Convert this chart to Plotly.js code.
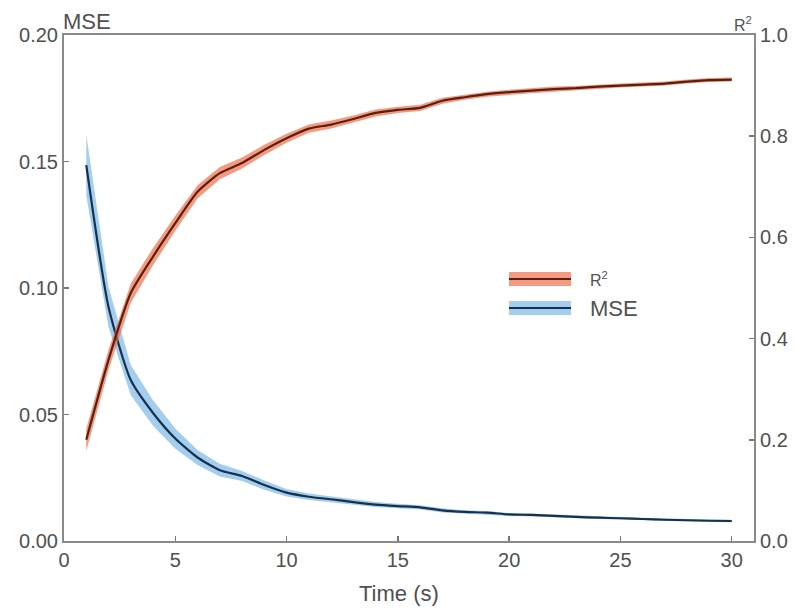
<!DOCTYPE html>
<html>
<head>
<meta charset="utf-8">
<script src="https://cdn.plot.ly/plotly-3.0.1.min.js"></script>
<style>html,body{margin:0;padding:0;background:#fff;}#chart{width:798px;height:609px;}</style>
</head>
<body>
<div id="chart"></div>
<script>
const time = [1,2,3,4,5,6,7,8,9,10,11,12,13,14,15,16,17,18,19,20,21,22,23,24,25,26,27,28,29,30];
const r2 = [0.200,0.358,0.490,0.562,0.628,0.690,0.727,0.747,0.773,0.796,0.815,0.823,0.834,0.846,0.852,0.856,0.870,0.877,0.883,0.887,0.890,0.893,0.895,0.898,0.900,0.902,0.904,0.908,0.911,0.912];
const r2Std = [0.022,0.020,0.019,0.017,0.015,0.013,0.012,0.011,0.010,0.009,0.008,0.008,0.007,0.007,0.006,0.006,0.006,0.005,0.005,0.005,0.005,0.005,0.004,0.004,0.004,0.004,0.004,0.004,0.004,0.004];
const mse = [0.1486,0.0925,0.0636,0.0506,0.0405,0.0330,0.0280,0.0257,0.0221,0.0191,0.0175,0.0165,0.0154,0.0144,0.0138,0.0133,0.0121,0.0115,0.0112,0.0105,0.0103,0.0099,0.0095,0.0092,0.0090,0.0087,0.0084,0.0082,0.0080,0.0079];
const mseStd = [0.012,0.008,0.006,0.005,0.004,0.003,0.0025,0.002,0.0018,0.0015,0.0013,0.0012,0.0011,0.0010,0.0009,0.0008,0.0008,0.0007,0.0007,0.0006,0.0006,0.0006,0.0006,0.0005,0.0005,0.0005,0.0005,0.0005,0.0005,0.0005];
const xTicks = [0,5,10,15,20,25,30];
const mseTicks = [0,0.05,0.10,0.15,0.20];
const r2Ticks = [0,0.2,0.4,0.6,0.8,1.0];
const seriesNames = ['R<sup>2</sup>','MSE'];

const r2Lo = r2.map((v,i)=>v-r2Std[i]);
const r2Hi = r2.map((v,i)=>v+r2Std[i]);
const mseLo = mse.map((v,i)=>v-mseStd[i]);
const mseHi = mse.map((v,i)=>v+mseStd[i]);

const r2Band = 'rgba(236,100,62,0.65)';
const r2Line = '#5a1f0e';
const mseBand = 'rgba(90,165,225,0.55)';
const mseLine = '#17304c';

const traces = [
  {x:time,y:mseLo,yaxis:'y',mode:'lines',line:{width:0,color:mseBand},showlegend:false,hoverinfo:'skip'},
  {x:time,y:mseHi,yaxis:'y',mode:'lines',fill:'tonexty',fillcolor:mseBand,line:{width:0,color:mseBand},showlegend:false,hoverinfo:'skip'},
  {x:time,y:mse,yaxis:'y',mode:'lines',line:{width:2.2,color:mseLine,shape:'spline',smoothing:0.6},showlegend:false},
  {x:time,y:r2Lo,yaxis:'y2',mode:'lines',line:{width:0,color:r2Band},showlegend:false,hoverinfo:'skip'},
  {x:time,y:r2Hi,yaxis:'y2',mode:'lines',fill:'tonexty',fillcolor:r2Band,line:{width:0,color:r2Band},showlegend:false,hoverinfo:'skip'},
  {x:time,y:r2,yaxis:'y2',mode:'lines',line:{width:2.2,color:r2Line,shape:'spline',smoothing:0.6},showlegend:false}
];

const fam = '"Liberation Sans", Arial, sans-serif';
const txt = '#505050';
const tickFont = {family:fam, size:20, color:txt};
const axisCommon = {showgrid:false,zeroline:false,showline:true,linecolor:'#8a8a8a',linewidth:2,
  ticks:'inside',ticklen:5,tickwidth:1.5,tickcolor:'#777',tickfont:tickFont};

function py2paper(py){ return 1 - (py-35)/506; }
function px2paper(px){ return (px-64)/690; }
const legX0 = px2paper(509), legX1 = px2paper(571);
const shapes = [];
const annotations = [];
[[279,r2Band,r2Line,seriesNames[0],16],[308,mseBand,mseLine,seriesNames[1],22]].forEach(([py,band,ln,name,fs])=>{
  const yy = py2paper(py);
  shapes.push({type:'line',xref:'paper',yref:'paper',x0:legX0,x1:legX1,y0:yy,y1:yy,line:{color:band,width:14}});
  shapes.push({type:'line',xref:'paper',yref:'paper',x0:legX0,x1:legX1,y0:yy,y1:yy,line:{color:ln,width:2}});
  annotations.push({xref:'paper',yref:'paper',x:px2paper(588),y:yy,text:name,showarrow:false,xanchor:'left',yanchor:'middle',font:{family:fam,size:fs,color:txt}});
});
annotations.push({xref:'paper',yref:'paper',x:0,y:1,xanchor:'left',yanchor:'bottom',xshift:-3,yshift:-1,text:'MSE',showarrow:false,font:{family:fam,size:22,color:txt}});
annotations.push({xref:'paper',yref:'paper',x:1,y:1,xanchor:'right',yanchor:'bottom',xshift:0,yshift:-1,text:'R<sup>2</sup>',showarrow:false,font:{family:fam,size:16,color:txt}});
annotations.push({xref:'paper',yref:'paper',x:px2paper(399),y:py2paper(593),xanchor:'center',yanchor:'middle',text:'Time (s)',showarrow:false,font:{family:fam,size:22,color:txt}});

const layout = {
  width:798,height:609,
  margin:{l:64,r:44,t:35,b:68},
  paper_bgcolor:'#fff',plot_bgcolor:'#fff',
  font:{family:fam,size:20,color:txt},
  showlegend:false,
  xaxis:Object.assign({},axisCommon,{range:[0,31],tickvals:xTicks,mirror:true}),
  yaxis:Object.assign({},axisCommon,{range:[0,0.2],tickvals:mseTicks,tickformat:'.2f'}),
  yaxis2:Object.assign({},axisCommon,{range:[0,1],tickvals:r2Ticks,tickformat:'.1f',overlaying:'y',side:'right'}),
  shapes:shapes,
  annotations:annotations
};
Plotly.newPlot('chart',traces,layout,{displayModeBar:false,staticPlot:true});
</script>
</body>
</html>
